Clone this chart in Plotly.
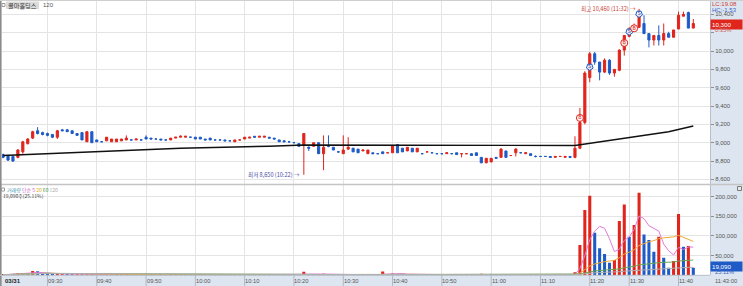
import plotly.graph_objects as go
import pandas as pd

# ---------------- data ----------------
session_start = "09:21"
session_end = "11:43"
halted_minutes = ["11:21", "11:22"]   # VI halt, no candles

opens = [8870, 8860, 8850, 8840, 8900, 8990, 9050, 9130, 9110, 9100,
         9090, 9060, 9140, 9140, 9130, 9100, 9110, 9010, 9120, 9030,
         9010, 9020, 9010, 9010, 9020, 9030, 9030, 9030, 9030, 9060,
         9050, 9040, 9040, 9030, 9030, 9050, 9060, 9060, 9060, 9060,
         9060, 9040, 9050, 9030, 9030, 9030, 9020, 9010, 9030, 9040,
         9050, 9070, 9060, 9060, 9060, 9050, 9030, 9020, 9010, 9000,
         8990, 8970, 8950, 8960, 9000, 8880, 8970, 8950, 8900, 8880,
         8930, 8940, 8930, 8910, 8880, 8890, 8880, 8900, 8890, 8890,
         8980, 8940, 8910, 8940, 8900, 8880, 8900, 8890, 8880, 8880,
         8880, 8880, 8890, 8880, 8880, 8880, 8890, 8840, 8780, 8790,
         8840, 8840, 8910, 8860, 8890, 8890, 8880, 8880, 8850, 8850,
         8850, 8850, 8840, 8850, 8840, 8850, 8840, 8940, 9220, 9710,
         9970, 9880, 9770, 9900, 9760, 9790, 10010, 10160, 10240, 10260,
         10300, 10190, 10120, 10170, 10120, 10190, 10150, 10240, 10380, 10420,
         10250]
highs = [8880, 8870, 8860, 8930, 9020, 9050, 9130, 9170, 9120, 9110,
         9090, 9140, 9150, 9150, 9130, 9100, 9110, 9120, 9120, 9030,
         9010, 9060, 9040, 9040, 9040, 9080, 9030, 9040, 9030, 9080,
         9050, 9040, 9040, 9030, 9050, 9060, 9080, 9070, 9060, 9060,
         9060, 9040, 9050, 9030, 9030, 9030, 9020, 9030, 9030, 9060,
         9060, 9070, 9070, 9070, 9060, 9050, 9030, 9030, 9020, 9000,
         8990, 9100, 8960, 9000, 9000, 9080, 9080, 8950, 8910, 9080,
         9060, 8940, 8930, 8920, 8920, 8890, 8880, 8900, 8890, 8970,
         8980, 8940, 8950, 8940, 8940, 8880, 8900, 8890, 8880, 8880,
         8890, 8880, 8890, 8880, 8880, 8880, 8890, 8840, 8830, 8830,
         8840, 8940, 8910, 8860, 8940, 8890, 8890, 8880, 8860, 8850,
         8850, 8850, 8850, 8850, 8850, 8850, 9070, 9380, 9780, 9990,
         9990, 9880, 9920, 9910, 9800, 10020, 10170, 10260, 10300, 10460,
         10390, 10190, 10170, 10280, 10300, 10210, 10230, 10430, 10430, 10430,
         10350]
lows = [8830, 8800, 8790, 8830, 8880, 8980, 9040, 9090, 9080, 9070,
        9050, 9040, 9130, 9120, 9100, 9080, 9030, 9010, 9000, 9010,
        9010, 9020, 9010, 9010, 9020, 9030, 9030, 9030, 9030, 9040,
        9040, 9040, 9030, 9030, 9030, 9050, 9060, 9060, 9060, 9040,
        9040, 9030, 9030, 9030, 9030, 9020, 9020, 9010, 9030, 9040,
        9050, 9060, 9060, 9060, 9050, 9040, 9010, 9010, 9000, 9000,
        8960, 8650, 8910, 8960, 8880, 8700, 8950, 8920, 8890, 8880,
        8920, 8900, 8890, 8910, 8880, 8880, 8880, 8880, 8890, 8890,
        8890, 8900, 8910, 8900, 8900, 8880, 8900, 8890, 8880, 8880,
        8880, 8880, 8870, 8840, 8880, 8860, 8860, 8780, 8780, 8790,
        8830, 8840, 8840, 8860, 8850, 8890, 8880, 8860, 8840, 8850,
        8850, 8840, 8840, 8850, 8840, 8840, 8830, 8930, 9200, 9660,
        9850, 9680, 9760, 9740, 9720, 9780, 9950, 10150, 10230, 10250,
        10190, 10040, 10060, 10060, 10060, 10150, 10150, 10240, 10380, 10250,
        10250]
closes = [8840, 8810, 8800, 8920, 9010, 9040, 9120, 9100, 9090, 9080,
          9060, 9130, 9130, 9120, 9100, 9080, 9030, 9120, 9000, 9010,
          9010, 9060, 9040, 9040, 9040, 9050, 9030, 9040, 9030, 9040,
          9040, 9040, 9030, 9030, 9050, 9060, 9070, 9070, 9060, 9040,
          9040, 9030, 9030, 9030, 9030, 9020, 9020, 9030, 9030, 9060,
          9060, 9060, 9070, 9070, 9050, 9040, 9010, 9010, 9010, 9000,
          8960, 9100, 8940, 9000, 8880, 8950, 8960, 8920, 8900, 8920,
          8950, 8900, 8890, 8920, 8920, 8880, 8880, 8880, 8890, 8970,
          8890, 8900, 8950, 8900, 8940, 8880, 8900, 8890, 8880, 8880,
          8890, 8880, 8870, 8880, 8880, 8860, 8860, 8780, 8830, 8830,
          8830, 8930, 8840, 8860, 8930, 8890, 8890, 8860, 8850, 8850,
          8850, 8840, 8850, 8850, 8850, 8840, 8940, 9220, 9760, 9970,
          9880, 9770, 9900, 9760, 9800, 10010, 10170, 10240, 10260, 10390,
          10190, 10120, 10170, 10120, 10190, 10150, 10230, 10390, 10400, 10250,
          10300]
volumes = [1500, 2500, 3000, 5000, 6000, 5500, 11000, 10500, 3000, 2500,
           2000, 4000, 6000, 1500, 1200, 2000, 1800, 2500, 2200, 1500,
           800, 1500, 1200, 1000, 1300, 1800, 600, 900, 700, 1200,
           1000, 700, 900, 500, 1200, 1500, 1800, 1100, 600, 1400,
           1300, 800, 1000, 600, 500, 700, 400, 900, 600, 3000,
           1500, 1200, 1400, 3000, 1500, 1000, 1500, 1300, 1000, 600,
           1800, 9000, 3500, 2500, 3500, 4000, 2000, 1800, 1200, 2000,
           2200, 1500, 1200, 900, 1100, 800, 700, 9500, 3000, 4500,
           3500, 2000, 2200, 1800, 1500, 800, 600, 700, 500, 600,
           900, 500, 1200, 1500, 700, 1000, 1800, 4000, 2500, 2200,
           1500, 3000, 2200, 1000, 2000, 800, 900, 1200, 800, 500,
           400, 800, 600, 500, 700, 500, 7600, 77000, 166000, 202000,
           108000, 68600, 54000, 32000, 39000, 138000, 180000, 98000, 128000, 210000,
           104000, 90000, 60000, 98000, 44700, 19300, 36300, 156000, 72700, 74500,
           19090]

# 120-period price average line (vertices)
ma_line_times = ["09:21", "09:57", "10:15", "10:22", "11:17", "11:38", "11:43"]
ma_line_values = [8860, 8939, 8962, 8975, 8970, 9120, 9182]

# signal markers
sig_times = ["11:18", "11:20", "11:29", "11:30", "11:31", "11:32"]
sig_prices = [9270, 9826, 10088, 10210, 10248, 10404]
sig_kind = ["B", "S", "B", "S", "B", "S"]

price_ticks = [8600, 8800, 9000, 9200, 9400, 9600, 9800, 10000, 10200, 10400]
price_tick_text = ["8,600", "8,800", "9,000", "9,200", "9,400", "9,600", "9,800",
                   "10,000", "", "10,400"]   # 10,200 is hidden behind the price box
vol_ticks = [50000, 100000, 150000, 200000]
time_ticks = ["09:30", "09:40", "09:50", "10:00", "10:10", "10:20", "10:30",
              "10:40", "10:50", "11:00", "11:10", "11:20", "11:30", "11:40"]
ma_periods = [5, 20, 60, 120]

# ---------------- build categories ----------------
def to_min(t):
    h, m = t.split(":")
    return int(h) * 60 + int(m)

times = []
for m in range(to_min(session_start), to_min(session_end) + 1):
    t = f"{m // 60:02d}:{m % 60:02d}"
    if t not in halted_minutes:
        times.append(t)

assert len(times) == len(opens) == len(highs) == len(lows) == len(closes) == len(volumes), \
    (len(times), len(opens), len(highs), len(lows), len(closes), len(volumes))

# ---------------- style ----------------
W, H = 743, 286
RED = "#e0251c"
BLUE = "#1f5bc6"
GRID = "#e4e4e4"
AXBG = "#dde6f0"
FONT = "Liberation Sans"
CJK = "Noto Sans CJK KR"


def px(x):
    return x / W


def py(y):
    return 1 - y / H


PLOT_L, PLOT_R = 2, 710
PRICE_TOP, PRICE_BOT = 0, 184
VOL_TOP, VOL_BOT = 185, 275.3
BAR_PX = 4.93
FIRST_BAR_PX = 3.1
x_lo = -(FIRST_BAR_PX - PLOT_L) / BAR_PX
x_hi = x_lo + (PLOT_R - PLOT_L) / BAR_PX

# price axis mapping: 9000 at y=142.7 px, 0.09167 px per won
def price_at(ypx):
    return 9000 + (142.7 - ypx) / 0.09167

p_lo, p_hi = price_at(PRICE_BOT), price_at(PRICE_TOP)
# volume mapping: 0 at 275.3, 19.67 px per 50000
v_hi = (VOL_BOT - VOL_TOP) / 19.67 * 50000

fig = go.Figure()

fig.add_trace(go.Candlestick(
    x=times, open=opens, high=highs, low=lows, close=closes,
    increasing=dict(line=dict(color=RED, width=1), fillcolor=RED),
    decreasing=dict(line=dict(color=BLUE, width=1), fillcolor=BLUE),
    whiskerwidth=0, xaxis="x", yaxis="y", showlegend=False, hoverinfo="skip"))

fig.add_trace(go.Scatter(x=ma_line_times, y=ma_line_values, mode="lines",
                         line=dict(color="#111111", width=1.4),
                         xaxis="x", yaxis="y", showlegend=False, hoverinfo="skip"))

sig_color = [RED if k == "B" else BLUE for k in sig_kind]
sig_symbol = ["circle" if k == "B" else "pentagon" for k in sig_kind]
sig_angle = [0 if k == "B" else 180 for k in sig_kind]
fig.add_trace(go.Scatter(
    x=sig_times, y=sig_prices, mode="markers+text",
    marker=dict(size=7, color="rgba(255,255,255,0.85)", symbol=sig_symbol, angle=sig_angle,
                line=dict(color=sig_color, width=1)),
    text=sig_kind, textposition="middle center",
    textfont=dict(size=5, color=sig_color, family=FONT),
    xaxis="x", yaxis="y", showlegend=False, hoverinfo="skip"))

# volume
vol_colors = []
for i, v in enumerate(volumes):
    if i == 0 or v >= volumes[i - 1]:
        vol_colors.append(RED)
    else:
        vol_colors.append(BLUE)
fig.add_trace(go.Bar(x=times, y=volumes, marker=dict(color=vol_colors, line=dict(width=0)),
                     width=0.62, xaxis="x2", yaxis="y2", showlegend=False, hoverinfo="skip"))

vs = pd.Series(volumes, dtype=float)
ma_colors = {5: "#e27ad6", 20: "#f0a838", 60: "#6aa84f", 120: "#b0b0b0"}
for n in ma_periods:
    fig.add_trace(go.Scatter(x=times, y=vs.rolling(n, min_periods=1).mean(), mode="lines",
                             line=dict(color=ma_colors[n], width=1),
                             xaxis="x2", yaxis="y2", showlegend=False, hoverinfo="skip"))

xcommon = dict(type="category", range=[x_lo, x_hi], tickmode="array", tickvals=time_ticks,
               showticklabels=False, showgrid=True, gridcolor=GRID, gridwidth=1,
               zeroline=False, showline=False, ticks="", fixedrange=True)

fig.update_layout(
    width=W, height=H, margin=dict(l=0, r=0, t=0, b=0),
    paper_bgcolor="white", plot_bgcolor="white", showlegend=False, boxgap=0.38,
    xaxis=dict(domain=[px(PLOT_L), px(PLOT_R)], anchor="y", rangeslider=dict(visible=False), **xcommon),
    xaxis2=dict(domain=[px(PLOT_L), px(PLOT_R)], anchor="y2", matches="x", **xcommon),
    yaxis=dict(domain=[py(PRICE_BOT), py(PRICE_TOP)], range=[p_lo, p_hi], side="right",
               tickmode="array", tickvals=price_ticks, ticktext=price_tick_text,
               showgrid=True, gridcolor=GRID, zeroline=False,
               ticks="outside", ticklen=3, tickcolor="#8a9099",
               tickfont=dict(size=6, color="#555555", family=FONT),
               showline=True, linecolor="#b8c0ca", linewidth=1),
    yaxis2=dict(domain=[py(VOL_BOT), py(VOL_TOP)], range=[0, v_hi], side="right",
                tickmode="array", tickvals=vol_ticks, tickformat=",d",
                showgrid=True, gridcolor=GRID, zeroline=False,
                ticks="outside", ticklen=3, tickcolor="#8a9099",
                tickfont=dict(size=6, color="#555555", family=FONT),
                showline=True, linecolor="#b8c0ca", linewidth=1),
)

shapes = []
# right axis strip and bottom time band
shapes.append(dict(type="rect", xref="paper", yref="paper", x0=px(PLOT_R), x1=1, y0=0, y1=1,
                   fillcolor=AXBG, line=dict(width=0), layer="below"))
shapes.append(dict(type="rect", xref="paper", yref="paper", x0=0, x1=1, y0=0, y1=py(VOL_BOT),
                   fillcolor=AXBG, line=dict(width=0), layer="below"))
# panel separator
shapes.append(dict(type="line", xref="paper", yref="paper", x0=0, x1=1, y0=py(184.5), y1=py(184.5),
                   line=dict(color="#c4c4c4", width=1.5)))
# borders
shapes.append(dict(type="line", xref="paper", yref="paper", x0=px(0.8), x1=px(0.8), y0=0, y1=1,
                   line=dict(color="#8c8c8c", width=1.6)))
shapes.append(dict(type="line", xref="paper", yref="paper", x0=0, x1=1, y0=py(0.5), y1=py(0.5),
                   line=dict(color="#cfcfcf", width=1)))
shapes.append(dict(type="line", xref="paper", yref="paper", x0=0, x1=px(PLOT_R), y0=py(VOL_BOT), y1=py(VOL_BOT),
                   line=dict(color="#b8c0ca", width=1)))
# time band separators
for t in time_ticks:
    shapes.append(dict(type="line", xref="x", yref="paper", x0=t, x1=t, y0=0, y1=py(VOL_BOT),
                       line=dict(color="#aeb8c4", width=1)))
# little icons
shapes.append(dict(type="rect", xref="paper", yref="paper", x0=px(2), x1=px(5), y0=py(6.5), y1=py(3.5),
                   line=dict(color="#9a9a9a", width=1), fillcolor="white"))
shapes.append(dict(type="rect", xref="paper", yref="paper", x0=px(6), x1=px(39), y0=py(9), y1=py(1.5),
                   line=dict(width=0), fillcolor="#dcdcdc"))
shapes.append(dict(type="rect", xref="paper", yref="paper", x0=px(1.5), x1=px(4.5), y0=py(191), y1=py(188),
                   line=dict(color="#9a9a9a", width=1), fillcolor="white"))
shapes.append(dict(type="rect", xref="paper", yref="paper", x0=px(737.5), x1=px(741.5), y0=py(190.5), y1=py(186.5),
                   line=dict(color="#7a7a7a", width=1), fillcolor="#e8e8e8"))
fig.update_layout(shapes=shapes)

ann = []


def text(x, y, s, size=6, color="#444", family=FONT, xanchor="left", xref="paper", yref="paper", **kw):
    ann.append(dict(x=x, y=y, xref=xref, yref=yref, text=s, showarrow=False, xanchor=xanchor,
                    yanchor="middle", font=dict(size=size, color=color, family=family), **kw))


# header
text(px(7), py(5.3), "콜마홀딩스", size=6.2, color="#333", family=CJK, borderpad=0)
text(px(41.5), py(5.3), "120", size=6, color="#555", borderpad=0)

# volume legend
legend_html = ("<span style='color:#3a9ab0'>거래량</span> <span style='color:#d05cc4'>단순 5</span> "
               "<span style='color:#e0b020'>20</span> <span style='color:#4aa05a'>60</span> "
               "<span style='color:#aaaaaa'>120</span>")
text(px(6), py(189.5), legend_html, size=5, family=CJK, borderpad=0)
text(px(1.5), py(195.5), "19,090주(25.11%)", size=5, color="#444", family=CJK, borderpad=0)

# min / max annotations in data coords
i_low = times.index("10:22")
i_high = times.index("11:32")
text(i_low - 0.5, min(lows), "최저 8,650 (10:22) →", size=5.6, color="#4a4aa8", family=CJK,
     xanchor="right", xref="x", yref="y", borderpad=0)
text(i_high - 0.4, max(highs), "최고 10,460 (11:32) →", size=5.6, color="#c83a32", family=CJK,
     xanchor="right", xref="x", yref="y", borderpad=0)

# bottom time labels
text(px(2.5), py(280.8), "<b>03/31</b>", size=6, color="#222")
for t in time_ticks:
    text(times.index(t), py(280.8), t, size=5.8, color="#555", xref="x", borderpad=0, xshift=-0.5)
text(px(713.5), py(280.8), "11:43:00", size=5.8, color="#555", borderpad=0)

# right-side status labels
text(px(711), py(3.6), "LC:19.08", size=6, color="#d03a30", borderpad=0)
text(px(711), py(10.4), "HC:-1.53", size=6, color="#3a62c4", borderpad=0)
text(px(742.5), py(24), "10,300", size=6.2, color="white", xanchor="right",
     bgcolor="#e0251c", borderpad=1, width=29, align="left")
text(px(714), py(29.8), "0.35%", size=5.8, color="#d06060", borderpad=0)
text(px(742.5), py(266.3), "19,090", size=6.2, color="white", xanchor="right",
     bgcolor="#1f5bc6", borderpad=1, width=29, align="left")
text(px(714), py(272.3), "25.11%", size=5.8, color="#3a62c4", borderpad=0)

fig.update_layout(annotations=ann)

fig.write_html("out.html")
